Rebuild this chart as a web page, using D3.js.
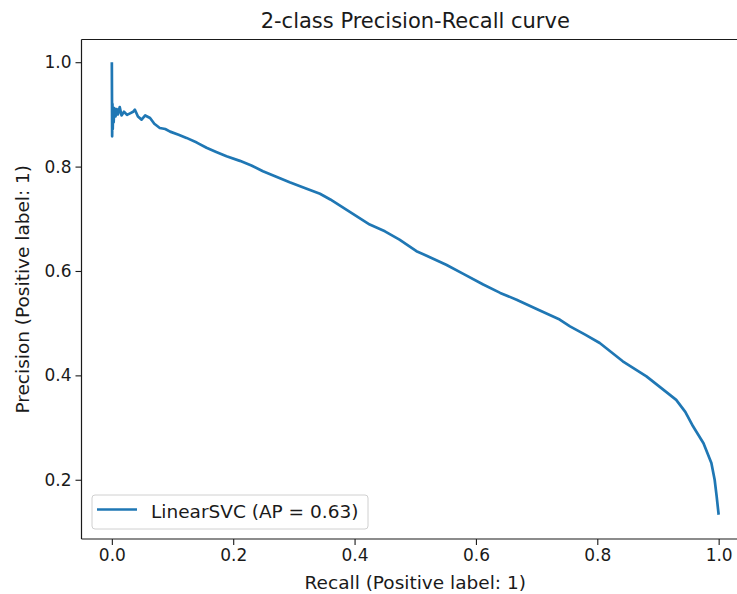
<!DOCTYPE html>
<html>
<head>
<meta charset="utf-8">
<script src="https://cdn.jsdelivr.net/npm/d3@7"></script>
<style>
  html, body { margin: 0; padding: 0; background: #fff; }
  svg { display: block; font-family: "DejaVu Sans", sans-serif; }
</style>
</head>
<body>
<svg id="chart" width="737" height="594"></svg>
<script>
// ---- data ----
const title = "2-class Precision-Recall curve";
const xLabel = "Recall (Positive label: 1)";
const yLabel = "Precision (Positive label: 1)";
const seriesName = "LinearSVC (AP = 0.63)";
const xTicks = [0.0, 0.2, 0.4, 0.6, 0.8, 1.0];
const yTicks = [0.2, 0.4, 0.6, 0.8, 1.0];
const recall = [
  0, 0.0005, 0.001, 0.0015, 0.002, 0.003, 0.004, 0.006, 0.008, 0.010,
  0.013, 0.016, 0.020, 0.025, 0.030, 0.035, 0.038, 0.043, 0.049, 0.055,
  0.063, 0.070, 0.079, 0.088, 0.096, 0.110, 0.123, 0.140, 0.156, 0.172,
  0.189, 0.211, 0.230, 0.249, 0.270, 0.293, 0.320, 0.343, 0.360, 0.387,
  0.425, 0.450, 0.474, 0.502, 0.525, 0.551, 0.580, 0.612, 0.640, 0.667,
  0.700, 0.738, 0.755, 0.780, 0.804, 0.842, 0.881, 0.916, 0.930, 0.945,
  0.958, 0.975, 0.988, 0.9934, 0.9967, 1.0
];
const precision = [
  1.0, 0.858, 0.920, 0.872, 0.905, 0.885, 0.912, 0.896, 0.910, 0.900,
  0.914, 0.898, 0.905, 0.899, 0.902, 0.905, 0.909, 0.896, 0.890, 0.898,
  0.893, 0.882, 0.874, 0.872, 0.867, 0.861, 0.855, 0.846, 0.836, 0.828,
  0.820, 0.811, 0.802, 0.791, 0.781, 0.770, 0.758, 0.748, 0.737, 0.717,
  0.689, 0.676, 0.660, 0.638, 0.626, 0.612, 0.594, 0.574, 0.558, 0.545,
  0.527, 0.507, 0.494, 0.478, 0.462, 0.427, 0.398, 0.366, 0.353, 0.330,
  0.302, 0.270, 0.232, 0.200, 0.168, 0.133
];
const points = recall.map((r, i) => ({ r, p: precision[i] }));

// ---- layout ----
const svg = d3.select("#chart");
const padL = 81.5, padR = 749, padT = 39.5, padB = 539;
const x = d3.scaleLinear().domain([-0.05, 1.05]).range([padL, padR]);
const y = d3.scaleLinear().domain([0.0865, 1.0435]).range([padB, padT]);
const ink = "#1a1a1a";

// title
svg.append("text")
  .attr("x", (padL + padR) / 2).attr("y", 27.5)
  .attr("text-anchor", "middle")
  .attr("font-size", 21).attr("fill", ink)
  .text(title);

// curve
svg.append("path")
  .datum(points)
  .attr("fill", "none")
  .attr("stroke", "#1f77b4")
  .attr("stroke-width", 2.7)
  .attr("stroke-linejoin", "round")
  .attr("stroke-linecap", "butt")
  .attr("d", d3.line().x(d => x(d.r)).y(d => y(d.p)));

// axes
const xAxis = d3.axisBottom(x).tickValues(xTicks).tickFormat(d3.format(".1f")).tickSize(6).tickPadding(4);
const yAxis = d3.axisLeft(y).tickValues(yTicks).tickFormat(d3.format(".1f")).tickSize(6).tickPadding(4);
const gx = svg.append("g").attr("transform", `translate(0,${padB})`).call(xAxis);
const gy = svg.append("g").attr("transform", `translate(${padL},0)`).call(yAxis);
[gx, gy].forEach(g => {
  g.select(".domain").remove();
  g.selectAll("line").attr("stroke", ink).attr("stroke-width", 1.1);
  g.selectAll("text").attr("font-size", 17).attr("fill", ink).attr("font-family", "DejaVu Sans");
});

// spines
svg.append("line").attr("x1", padL).attr("x2", padL).attr("y1", padT).attr("y2", padB).attr("stroke", ink).attr("stroke-width", 1.2);
svg.append("line").attr("x1", padL).attr("x2", padR).attr("y1", padB).attr("y2", padB).attr("stroke", ink).attr("stroke-width", 1.2);
svg.append("line").attr("x1", padL).attr("x2", padR).attr("y1", padT).attr("y2", padT).attr("stroke", ink).attr("stroke-width", 1.2);

// axis labels
svg.append("text")
  .attr("x", (padL + padR) / 2).attr("y", 589)
  .attr("text-anchor", "middle").attr("font-size", 18.5).attr("fill", ink)
  .text(xLabel);
svg.append("text")
  .attr("transform", `translate(29,${(padT + padB) / 2}) rotate(-90)`)
  .attr("text-anchor", "middle").attr("font-size", 18.5).attr("fill", ink)
  .text(yLabel);

// legend
const lg = svg.append("g");
lg.append("rect")
  .attr("x", 92).attr("y", 495).attr("width", 276).attr("height", 34)
  .attr("rx", 3).attr("fill", "#fff").attr("fill-opacity", 0.8)
  .attr("stroke", "#d0d0d0").attr("stroke-width", 1);
lg.append("line")
  .attr("x1", 97).attr("x2", 137).attr("y1", 509.5).attr("y2", 509.5)
  .attr("stroke", "#1f77b4").attr("stroke-width", 2.7);
lg.append("text")
  .attr("x", 151).attr("y", 518)
  .attr("font-size", 18.5).attr("fill", ink)
  .text(seriesName);
</script>
</body>
</html>
